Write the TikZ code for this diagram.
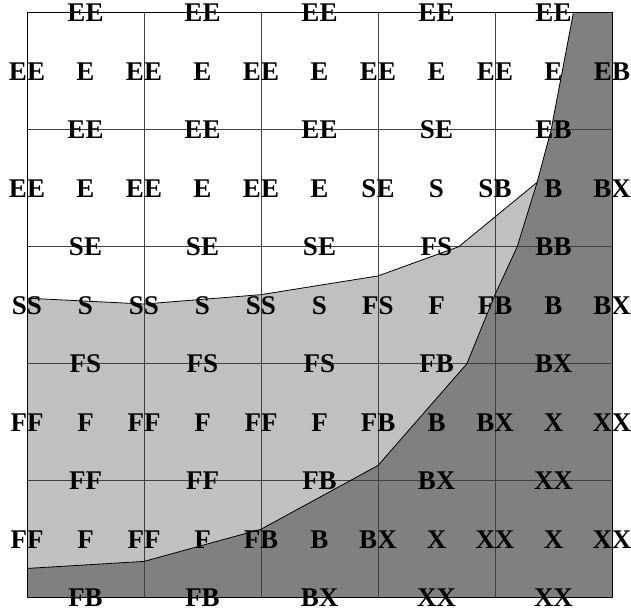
\documentclass[tikz,border=0pt]{standalone}
\usepackage{fontspec}
\setmainfont{Liberation Serif}
\definecolor{lightph}{HTML}{C0C0C0}
\definecolor{darkph}{HTML}{808080}
\begin{document}
\begin{tikzpicture}[x=117pt,y=117pt,
  lbl/.style={font=\fontsize{27}{27}\selectfont\bfseries, inner sep=0pt, text height=17.9pt, text depth=0pt},
  gridline/.style={draw=black!75, line width=1pt},
  bound/.style={draw=black, line width=0.8pt, line join=round}]
\useasboundingbox (-0.2308,-0.1308) rectangle (5.1624,5.1085);
% regions
\fill[lightph] (0,2.56) -- (1,2.51) -- (2,2.59) -- (3,2.75) -- (3.69,3.0) -- (4.36,3.55)
  -- (4.19,3.0) -- (4.0,2.59) -- (3.76,2.0) -- (3.0,1.13) -- (2.0,0.585) -- (1.0,0.31) -- (0,0.25) -- cycle;
\fill[darkph] (4.67,5) -- (4.48,4.0) -- (4.36,3.55) -- (4.19,3.0) -- (4.0,2.59) -- (3.76,2.0)
  -- (3.0,1.13) -- (2.0,0.585) -- (1.0,0.31) -- (0,0.25) -- (0,0) -- (5,0) -- (5,5) -- cycle;
% grid
\foreach \i in {1,...,4} {
  \draw[gridline] (\i,0) -- (\i,5);
  \draw[gridline] (0,\i) -- (5,\i);
}
\draw[draw=black, line width=1pt] (0,0) rectangle (5,5);
% boundaries
\draw[bound] (0,2.56) -- (1,2.51) -- (2,2.59) -- (3,2.75) -- (3.69,3.0) -- (4.36,3.55);
\draw[bound] (4.67,5) -- (4.48,4.0) -- (4.36,3.55) -- (4.19,3.0) -- (4.0,2.59) -- (3.76,2.0)
  -- (3.0,1.13) -- (2.0,0.585) -- (1.0,0.31) -- (0,0.25);
% cell labels
\foreach \row [count=\r] in {{E,E,E,E,E},{E,E,E,S,B},{S,S,S,F,B},{F,F,F,B,X},{F,F,B,X,X}} {
  \foreach \t [count=\c] in \row {
    \node[lbl] (cc-\r-\c) at (\c-0.5, 5.5-\r) {\t};
  }
}
% vertical edge labels
\foreach \row [count=\r] in {{EE,EE,EE,EE,EE,EB},{EE,EE,EE,SE,SB,BX},{SS,SS,SS,FS,FB,BX},{FF,FF,FF,FB,BX,XX},{FF,FF,FB,BX,XX,XX}} {
  \foreach \t [count=\c from 0] in \row {
    \node[lbl] (ve-\r-\c) at (\c, 5.5-\r) {\t};
  }
}
% horizontal edge labels
\foreach \row [count=\r from 0] in {{EE,EE,EE,EE,EE},{EE,EE,EE,SE,EB},{SE,SE,SE,FS,BB},{FS,FS,FS,FB,BX},{FF,FF,FB,BX,XX},{FB,FB,BX,XX,XX}} {
  \foreach \t [count=\c] in \row {
    \node[lbl] (he-\r-\c) at (\c-0.5, 5-\r) {\t};
  }
}
\end{tikzpicture}
\end{document}
